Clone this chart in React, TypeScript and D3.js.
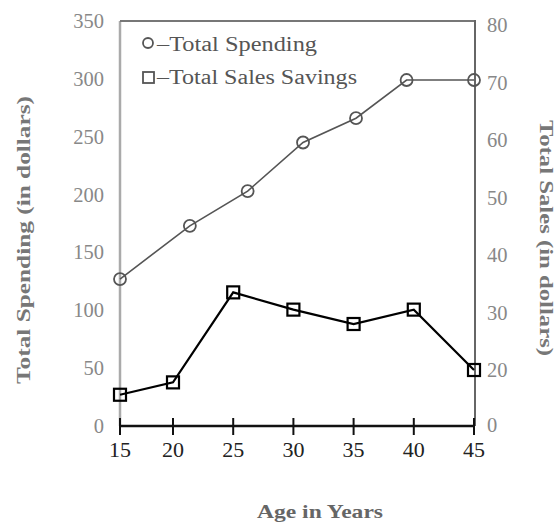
import React from 'react'
import * as d3 from 'd3'

// ages on the x axis
const ageTicks = [15, 20, 25, 30, 35, 40, 45]

// total spending (circles) - positions, left axis
const spendingAges = [15, 21.4, 26.2, 30.8, 35.2, 39.4, 45]
const spendingValues = [127, 173, 203, 245, 266, 299, 299]

// total sales savings (squares) - right axis
const salesAges = [15, 20, 25, 30, 35, 40, 45]
const salesValues = [11, 15.5, 33.5, 30.5, 28, 30.5, 20]

const leftTicks = [0, 50, 100, 150, 200, 250, 300, 350]
const rightTicks = [0, 20, 30, 40, 50, 60, 70, 80]

const W = 559
const H = 522
const FONT = '"Liberation Serif", "Times New Roman", serif'

const App: React.FC = () => {
  const left = 120
  const right = 475
  const top = 21
  const bottom = 426

  // the x ticks are not quite evenly spaced in the original
  const x = d3.scaleLinear().domain([15, 20, 45]).range([left, 173, right - 1])
  const yLeft = d3.scaleLinear().domain([0, 350]).range([bottom, top])
  // right axis has a break between 0 and 20
  const yRight = d3.scaleLinear().domain([0, 20, 80]).range([425, 370, 25])

  const spendLine = d3.line<number>()
    .x((_, i) => x(spendingAges[i]))
    .y(d => yLeft(d))
  const salesLine = d3.line<number>()
    .x((_, i) => x(salesAges[i]))
    .y(d => yRight(d))

  const sq = 12

  return (
    <svg width={W} height={H} style={{ position: 'absolute', left: 0, top: 0, background: '#fff' }}
      fontFamily={FONT}>
      {/* frame */}
      <line x1={left} x2={left} y1={top} y2={bottom} stroke="#aaa" strokeWidth={2.5} />
      <line x1={left} x2={right} y1={top} y2={top} stroke="#777" strokeWidth={2} />
      <line x1={right} x2={right} y1={top - 1} y2={bottom} stroke="#666" strokeWidth={2} />

      {/* left tick labels */}
      {leftTicks.map(t => (
        <text key={'l' + t} x={104} y={yLeft(t)} textAnchor="end" dominantBaseline="central"
          fontSize={20.5} fill="#888">{t}</text>
      ))}
      {/* right tick labels */}
      {rightTicks.map(t => (
        <text key={'r' + t} x={487} y={yRight(t)} textAnchor="start" dominantBaseline="central"
          fontSize={20.5} fill="#888">{t}</text>
      ))}

      {/* spending line */}
      <path d={spendLine(spendingValues) || ''} fill="none" stroke="#555" strokeWidth={1.6} />
      {spendingValues.map((v, i) => (
        <circle key={'c' + i} cx={x(spendingAges[i])} cy={yLeft(v)} r={6}
          fill="none" stroke="#555" strokeWidth={1.8} />
      ))}

      {/* sales line */}
      <path d={salesLine(salesValues) || ''} fill="none" stroke="#000" strokeWidth={2.2} />
      {salesValues.map((v, i) => (
        <rect key={'s' + i} x={x(salesAges[i]) - sq / 2} y={yRight(v) - sq / 2} width={sq} height={sq}
          fill="none" stroke="#000" strokeWidth={2.2} />
      ))}

      {/* x axis */}
      <line x1={left} x2={right} y1={bottom} y2={bottom} stroke="#111" strokeWidth={2.5} />
      {ageTicks.map(t => (
        <g key={'x' + t}>
          <line x1={x(t)} x2={x(t)} y1={bottom - 8} y2={bottom + 9} stroke="#111" strokeWidth={2} />
          <text x={x(t)} y={449} textAnchor="middle" dominantBaseline="central"
            fontSize={22} fill="#222">{t}</text>
        </g>
      ))}

      {/* legend */}
      <circle cx={148} cy={43} r={5} fill="none" stroke="#555" strokeWidth={1.8} />
      <text x={157} y={44} dominantBaseline="central" fontSize={20} fill="#555"
        textLength={160} lengthAdjust="spacingAndGlyphs">–Total Spending</text>
      <rect x={143} y={72} width={11} height={11} fill="none" stroke="#555" strokeWidth={1.8} />
      <text x={157} y={77} dominantBaseline="central" fontSize={20} fill="#555"
        textLength={200} lengthAdjust="spacingAndGlyphs">–Total Sales Savings</text>

      {/* axis titles */}
      <text transform="translate(23,240) rotate(-90)" textAnchor="middle" dominantBaseline="central"
        fontSize={19} fontWeight="bold" fill="#777"
        textLength={288} lengthAdjust="spacingAndGlyphs">Total Spending (in dollars)</text>
      <text transform="translate(546,238) rotate(90)" textAnchor="middle" dominantBaseline="central"
        fontSize={19} fontWeight="bold" fill="#777"
        textLength={236} lengthAdjust="spacingAndGlyphs">Total Sales (in dollars)</text>
      <text x={320} y={511} textAnchor="middle" dominantBaseline="central"
        fontSize={19} fontWeight="bold" fill="#666"
        textLength={126} lengthAdjust="spacingAndGlyphs">Age in Years</text>
    </svg>
  )
}

export default App
